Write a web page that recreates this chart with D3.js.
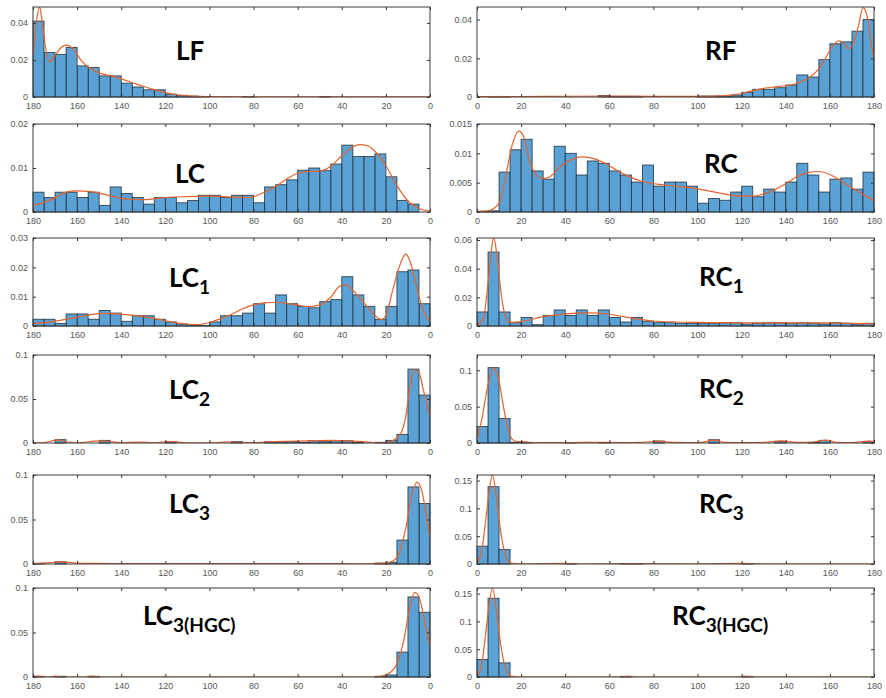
<!DOCTYPE html>
<html><head><meta charset="utf-8">
<script src="https://cdn.jsdelivr.net/npm/d3@7"></script>
<style>
body{margin:0;background:#fff;}
svg{display:block;}
.tick text{font-family:"Liberation Sans",Arial,sans-serif;font-size:9px;fill:#555;}
</style></head>
<body>
<script>
// ---- DATA ----
const binEdges = [0,5,10,15,20,25,30,35,40,45,50,55,60,65,70,75,80,85,90,95,100,105,110,115,120,125,130,135,140,145,150,155,160,165,170,175];
const xTicks = [0,20,40,60,80,100,120,140,160,180];

// bin values indexed by bin start (0-5, 5-10, ... 175-180)
const barsLF = [0,0,0,0,0,0,0,0,0,0.0003,0,0,0,0,0,0,0.0003,0,0,0,0.0003,0.0005,0.0009,0.0016,0.0039,0.0039,0.0054,0.0075,0.0114,0.0114,0.0159,0.0168,0.0268,0.023,0.024,0.041];
const barsRF = [0,0.0003,0.0003,0,0,0,0,0,0,0,0,0.0008,0.0003,0.0003,0.0003,0,0,0,0,0,0.0005,0.0005,0.0005,0.001,0.0024,0.004,0.004,0.0048,0.0062,0.0114,0.0103,0.0193,0.0275,0.0285,0.034,0.040];
const barsLC = [0,0.0018,0.0026,0.008,0.0132,0.0126,0.0126,0.0152,0.0109,0.0094,0.010,0.0095,0.0073,0.0062,0.0057,0.0021,0.0038,0.0038,0.0033,0.0038,0.0038,0.0026,0.0021,0.0033,0.0033,0.0018,0.0033,0.0042,0.0057,0.0015,0.0045,0.0033,0.0045,0.0045,0.0033,0.0045];
const barsRC = [0.0001,0.0002,0.0068,0.0106,0.0124,0.007,0.0056,0.0112,0.010,0.0063,0.0087,0.0083,0.007,0.0063,0.0051,0.008,0.0044,0.0051,0.0051,0.0044,0.0015,0.0023,0.002,0.0034,0.0044,0.0026,0.0039,0.0034,0.0051,0.0083,0.0063,0.0034,0.0056,0.0058,0.0039,0.0068];
const barsLC1 = [0.0076,0.0191,0.0185,0.0067,0.0023,0.0067,0.0106,0.0168,0.009,0.0083,0.0062,0.0067,0.0076,0.0106,0.0044,0.0076,0.0044,0.0035,0.0035,0.0014,0.0002,0.0002,0.0007,0.0014,0.0023,0.0035,0.0035,0.0016,0.0044,0.0053,0.0023,0.0041,0.0041,0.0009,0.0023,0.0023];
const barsRC1 = [0.0098,0.0516,0.0098,0.0023,0.006,0.0009,0.0074,0.0112,0.0074,0.0112,0.0074,0.0112,0.006,0.0028,0.006,0.0033,0.0023,0.0023,0.0019,0.0019,0.0019,0.0019,0.0023,0.0023,0.0014,0.0019,0.0023,0.0023,0.0019,0.0023,0.0019,0.0014,0.0023,0.0019,0.0009,0.0019];
const barsLC2 = [0.0545,0.084,0.0098,0.003,0.0008,0,0.0008,0.0026,0.0026,0.0015,0.0026,0.0008,0.0015,0.0015,0.0015,0,0,0.0015,0,0,0,0,0,0.0015,0,0,0,0,0,0.003,0,0,0,0.0038,0,0];
const barsRC2 = [0.0227,0.1036,0.0336,0.001,0.001,0,0,0,0.0005,0,0,0.0005,0,0,0,0,0.0027,0,0,0,0,0.0045,0,0,0,0,0,0.0023,0,0,0.001,0.0036,0,0,0,0.0023];
const barsLC3 = [0.068,0.0866,0.0269,0.002,0.001,0,0,0,0,0,0,0,0,0,0,0,0,0,0,0,0,0,0,0,0,0,0,0,0,0,0,0,0,0.0026,0,0.0007];
const barsRC3 = [0.032,0.139,0.026,0,0,0,0,0,0.001,0,0,0,0,0.0006,0.0006,0,0,0,0,0,0,0,0,0,0.001,0,0,0,0,0,0,0,0,0,0,0];
const barsLC3H = [0.0727,0.09,0.028,0.0023,0.0008,0,0,0,0,0,0,0,0,0,0,0,0,0,0,0,0,0,0,0,0,0,0,0,0,0,0.0008,0,0,0.0008,0,0.0008];
const barsRC3H = [0.0315,0.1415,0.0254,0,0,0,0,0,0,0,0,0,0,0.0012,0,0,0,0,0,0,0,0,0,0,0.0012,0,0,0,0,0,0,0,0,0,0,0];

// fitted density curves [angle, density]
const curveLF = [[0,0.0001],[80,0.0001],[100,0.0002],[110,0.0006],[115,0.0012],[120,0.0024],[125,0.004],[130,0.0058],[135,0.0078],[140,0.0098],[145,0.0115],[150,0.013],[155,0.0162],[158,0.0195],[162,0.0262],[165,0.028],[167,0.027],[170,0.0225],[172.5,0.019],[174.5,0.028],[176,0.042],[177,0.0485],[178.3,0.042],[180,0.022]];
const curveRF = [[0,0.0002],[20,0.0002],[40,0.0004],[60,0.0005],[80,0.0003],[100,0.0003],[110,0.0006],[115,0.001],[120,0.0018],[125,0.0033],[130,0.0045],[135,0.0052],[140,0.0058],[145,0.007],[150,0.0095],[155,0.0145],[158,0.02],[161,0.026],[164,0.029],[166,0.028],[168.5,0.025],[171,0.029],[173,0.037],[175,0.0462],[177,0.041],[179,0.026],[180,0.0195]];
const curveLC = [[0,0.0002],[5,0.0008],[10,0.0025],[15,0.006],[20,0.0105],[25,0.0138],[28,0.015],[32,0.0153],[35,0.0148],[40,0.0128],[45,0.0104],[50,0.0093],[55,0.0092],[60,0.0088],[65,0.0075],[70,0.0058],[75,0.0045],[82,0.0033],[90,0.0034],[100,0.0036],[110,0.0035],[120,0.0033],[125,0.003],[130,0.0028],[135,0.0029],[140,0.0031],[145,0.0037],[150,0.0043],[155,0.0047],[160,0.0048],[165,0.0045],[170,0.0032],[175,0.0022],[180,0.0015]];
const curveRC = [[0,0.0001],[5,0.0002],[10,0.0015],[13,0.006],[16,0.0115],[19,0.0138],[21,0.013],[24,0.0085],[27,0.0063],[30,0.0057],[33,0.006],[38,0.0078],[43,0.009],[48,0.0094],[53,0.0091],[58,0.0083],[63,0.0072],[68,0.0062],[75,0.0052],[85,0.0046],[95,0.0042],[105,0.0036],[115,0.0029],[120,0.0027],[125,0.0027],[130,0.0031],[135,0.0038],[140,0.0048],[145,0.006],[150,0.0067],[155,0.0069],[160,0.0064],[165,0.0053],[170,0.0041],[175,0.003],[180,0.0019]];
const curveLC1 = [[0,0.0015],[3,0.005],[6,0.013],[9,0.022],[11,0.0245],[14,0.02],[17,0.012],[20,0.0035],[22,0.0022],[25,0.0036],[30,0.008],[35,0.0122],[38,0.014],[41,0.0135],[45,0.0098],[50,0.0072],[55,0.0066],[60,0.0071],[65,0.0077],[70,0.0081],[75,0.0079],[80,0.0072],[85,0.0058],[90,0.004],[95,0.0025],[100,0.0012],[105,0.0005],[110,0.0006],[120,0.0018],[130,0.0032],[140,0.004],[145,0.0043],[150,0.0042],[160,0.003],[170,0.0016],[180,0.0008]];
const curveRC1 = [[0,0.0005],[3,0.006],[5,0.03],[6.5,0.052],[7.5,0.062],[9,0.05],[11,0.022],[13,0.006],[15,0.0025],[20,0.003],[30,0.0065],[40,0.0085],[50,0.0091],[60,0.0082],[70,0.0055],[80,0.0035],[90,0.0028],[100,0.0025],[120,0.0022],[140,0.0022],[160,0.0022],[170,0.0018],[180,0.0015]];
const curveLC2 = [[0,0.03],[1,0.04],[3,0.06],[5,0.08],[7,0.083],[9,0.065],[11,0.03],[13,0.012],[16,0.004],[20,0.0005],[25,0.0003],[30,0.0015],[40,0.0028],[45,0.003],[55,0.0025],[65,0.002],[72,0.0015],[78,0.0005],[85,0.0005],[90,0.0012],[100,0.0003],[110,0.0003],[118,0.0015],[125,0.0003],[132,0.001],[140,0.0003],[146,0.002],[150,0.0025],[160,0.0003],[166,0.002],[169,0.0035],[172,0.002],[175,0.0005],[180,0]];
const curveRC2 = [[0,0.005],[2,0.03],[5,0.08],[7.5,0.103],[10,0.085],[12,0.05],[14,0.02],[16,0.005],[18,0.002],[20,0.002],[25,0.0005],[40,0.0005],[55,0.001],[65,0.0005],[75,0.001],[82,0.0025],[90,0.0008],[100,0.0005],[108,0.004],[112,0.0008],[120,0.0005],[130,0.001],[138,0.003],[145,0.0008],[152,0.001],[158,0.004],[163,0.001],[170,0.0005],[178,0.0025],[180,0.002]];
const curveLC3 = [[0,0.03],[2,0.06],[4,0.085],[6,0.092],[8,0.08],[11,0.04],[14,0.012],[17,0.003],[20,0.001],[30,0.0003],[60,0.0004],[100,0.0004],[140,0.0005],[150,0.0006],[160,0.001],[168,0.0025],[172,0.0015],[180,0.0005]];
const curveRC3 = [[0,0.002],[2,0.02],[4,0.08],[5.5,0.13],[7,0.16],[8.5,0.13],[10,0.08],[12,0.03],[14,0.006],[16,0.001],[20,0],[40,0.001],[45,0],[70,0.0008],[100,0],[120,0.001],[130,0],[180,0]];
const curveLC3H = [[0,0.035],[1,0.045],[3,0.07],[5,0.09],[7,0.095],[9,0.08],[12,0.04],[15,0.015],[18,0.005],[22,0.001],[25,0],[150,0],[153,0.001],[156,0],[167,0],[170,0.001],[173,0],[176,0.0005],[178,0.001],[180,0.0005]];
const curveRC3H = [[0,0.002],[2,0.02],[4,0.08],[5.5,0.13],[7,0.16],[8.5,0.13],[10,0.08],[12,0.03],[14,0.006],[16,0.001],[20,0],[65,0],[68,0.001],[72,0],[118,0],[122,0.001],[126,0],[180,0]];

const yTicksLF = [0,0.02,0.04];
const yTicksRF = [0,0.02,0.04];
const yTicksLC = [0,0.01,0.02];
const yTicksRC = [0,0.005,0.01,0.015];
const yTicksLC1 = [0,0.01,0.02,0.03];
const yTicksRC1 = [0,0.02,0.04,0.06];
const yTicks010 = [0,0.05,0.1];
const yTicks015 = [0,0.05,0.1,0.15];

// ---- LAYOUT ----
const W = 886, H = 698;
const colX = {L:[33,430], R:[477,874]};
const rowY = [[7,97],[124,212],[238,326],[355,443],[475,564],[588,677]];

const panels = [
 {main:"LF", sub:"", side:"L", row:0, bars:barsLF, curve:curveLF, ymax:0.0486, yt:yTicksLF, lx:176, ly:60},
 {main:"RF", sub:"", side:"R", row:0, bars:barsRF, curve:curveRF, ymax:0.0465, yt:yTicksRF, lx:705, ly:60},
 {main:"LC", sub:"", side:"L", row:1, bars:barsLC, curve:curveLC, ymax:0.02, yt:yTicksLC, lx:175, ly:183},
 {main:"RC", sub:"", side:"R", row:1, bars:barsRC, curve:curveRC, ymax:0.015, yt:yTicksRC, lx:704, ly:173},
 {main:"LC", sub:"1", side:"L", row:2, bars:barsLC1, curve:curveLC1, ymax:0.03, yt:yTicksLC1, lx:169, ly:287},
 {main:"RC", sub:"1", side:"R", row:2, bars:barsRC1, curve:curveRC1, ymax:0.0614, yt:yTicksRC1, lx:699, ly:286},
 {main:"LC", sub:"2", side:"L", row:3, bars:barsLC2, curve:curveLC2, ymax:0.1, yt:yTicks010, lx:169, ly:399},
 {main:"RC", sub:"2", side:"R", row:3, bars:barsRC2, curve:curveRC2, ymax:0.121, yt:yTicks010, lx:699, ly:398},
 {main:"LC", sub:"3", side:"L", row:4, bars:barsLC3, curve:curveLC3, ymax:0.1, yt:yTicks010, lx:169, ly:513},
 {main:"RC", sub:"3", side:"R", row:4, bars:barsRC3, curve:curveRC3, ymax:0.16, yt:yTicks015, lx:699, ly:513},
 {main:"LC", sub:"3(HGC)", side:"L", row:5, bars:barsLC3H, curve:curveLC3H, ymax:0.1, yt:yTicks010, lx:143, ly:625},
 {main:"RC", sub:"3(HGC)", side:"R", row:5, bars:barsRC3H, curve:curveRC3H, ymax:0.16, yt:yTicks015, lx:672, ly:625}
];

const svg = d3.select("body").append("svg").attr("width",W).attr("height",H);
const defs = svg.append("defs");
const fmt = d => d===0 ? "0" : String(+d.toFixed(3));

panels.forEach((p,i)=>{
  const [x0,x1] = colX[p.side];
  const [y0,y1] = rowY[p.row];
  const x = d3.scaleLinear().domain(p.side==="L"?[180,0]:[0,180]).range([x0,x1]);
  const y = d3.scaleLinear().domain([0,p.ymax]).range([y1,y0]);
  const g = svg.append("g");
  defs.append("clipPath").attr("id","c"+i).append("rect")
     .attr("x",x0).attr("y",y0).attr("width",x1-x0).attr("height",y1-y0);

  // bars
  g.append("g").selectAll("rect").data(binEdges.map((e,k)=>({e,v:p.bars[k]})).filter(d=>d.v>0))
   .join("rect")
   .attr("x",d=>Math.min(x(d.e),x(d.e+5)))
   .attr("width",d=>Math.abs(x(d.e+5)-x(d.e)))
   .attr("y",d=>y(d.v))
   .attr("height",d=>y(0)-y(d.v))
   .attr("fill","#5aa2d6").attr("stroke","#1f2a33").attr("stroke-width",0.9).attr("stroke-opacity",0.85);

  // curve
  g.append("path").datum(p.curve)
   .attr("clip-path","url(#c"+i+")")
   .attr("d",d3.line().x(d=>x(d[0])).y(d=>y(d[1])).curve(d3.curveMonotoneX))
   .attr("fill","none").attr("stroke","#e4622c").attr("stroke-width",1.2);

  // axes
  const ax = g.append("g").attr("transform",`translate(0,${y1})`)
     .call(d3.axisBottom(x).tickValues(xTicks).tickSizeInner(-3).tickSizeOuter(0).tickPadding(6));
  const axT = g.append("g").attr("transform",`translate(0,${y0})`)
     .call(d3.axisTop(x).tickValues(xTicks).tickSizeInner(-3).tickSizeOuter(0).tickFormat(""));
  const ay = g.append("g").attr("transform",`translate(${x0},0)`)
     .call(d3.axisLeft(y).tickValues(p.yt).tickSizeInner(-3).tickSizeOuter(0).tickPadding(5).tickFormat(fmt));
  const ayR = g.append("g").attr("transform",`translate(${x1},0)`)
     .call(d3.axisRight(y).tickValues(p.yt).tickSizeInner(-3).tickSizeOuter(0).tickFormat(""));
  [ax,axT,ay,ayR].forEach(a=>{a.select(".domain").remove(); a.selectAll("line").attr("stroke","#333");});
  g.append("rect").attr("x",x0).attr("y",y0).attr("width",x1-x0).attr("height",y1-y0)
   .attr("fill","none").attr("stroke","#3a3a3a").attr("stroke-width",1);

  // label
  const t = g.append("text").attr("x",p.lx).attr("y",p.ly)
    .attr("font-family","Lato, 'Open Sans', sans-serif").attr("font-weight","bold").attr("fill","#000");
  t.append("tspan").attr("font-size","26px").text(p.main);
  if(p.sub) t.append("tspan").attr("font-size","19px").attr("dy",7).text(p.sub);
});
</script>
</body></html>
